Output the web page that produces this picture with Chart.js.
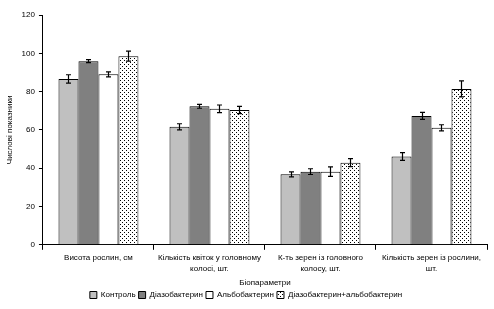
<!DOCTYPE html>
<html>
<head>
<meta charset="utf-8">
<script src="https://cdn.jsdelivr.net/npm/chart.js@4.4.1/dist/chart.umd.min.js"></script>
<style>
  html, body { margin: 0; padding: 0; background: #fff; }
  #wrap { width: 494px; height: 309px; }
</style>
</head>
<body>
<div id="wrap"><canvas id="myChart" width="494" height="309"></canvas></div>
<script>
const categories = [
  "Висота рослин, см",
  ["Кількість квіток у головному", "колосі, шт."],
  ["К-ть зерен із головного", "колосу, шт."],
  ["Кількість зерен із рослини,", "шт."]
];
const seriesNames = ["Контроль", "Діазобактерин", "Альбобактерин", "Діазобактерин+альбобактерин"];

const kontrol     = [86.6, 61.6, 36.8, 46.1];
const diazo       = [95.9, 72.3, 38.2, 67.3];
const albo        = [89.0, 71.0, 38.2, 61.1];
const diazoAlbo   = [98.5, 70.4, 42.9, 81.4];

const kontrolErr   = [2.2, 1.6, 1.3, 2.0];
const diazoErr     = [0.8, 1.0, 1.5, 1.8];
const alboErr      = [1.3, 2.0, 2.5, 1.6];
const diazoAlboErr = [2.6, 1.9, 2.1, 4.2];

// dotted fill for the last series
function dotPattern() {
  const c = document.createElement('canvas');
  c.width = 4; c.height = 4;
  const x = c.getContext('2d');
  x.fillStyle = '#fff';
  x.fillRect(0, 0, 4, 4);
  x.fillStyle = '#000';
  x.fillRect(0, 0, 1, 1);
  x.fillRect(2, 2, 1, 1);
  return x.createPattern(c, 'repeat');
}
const dots = dotPattern();

const font = { family: 'Liberation Sans, Arial', size: 8 };

// error bars drawn from the dataset meta + y scale
const errorBars = {
  id: 'errorBars',
  afterDatasetsDraw(chart) {
    const ctx = chart.ctx;
    const y = chart.scales.y;
    ctx.save();
    ctx.strokeStyle = '#000';
    ctx.lineWidth = 1.2;
    chart.data.datasets.forEach((ds, i) => {
      const meta = chart.getDatasetMeta(i);
      meta.data.forEach((bar, j) => {
        const v = ds.data[j], e = ds.err[j];
        const yt = y.getPixelForValue(v + e);
        const yb = y.getPixelForValue(v - e);
        const x = Math.round(bar.x) + 0.5;
        ctx.beginPath();
        ctx.moveTo(x, yt); ctx.lineTo(x, yb);
        ctx.moveTo(x - 2.5, yt); ctx.lineTo(x + 2.5, yt);
        ctx.moveTo(x - 2.5, yb); ctx.lineTo(x + 2.5, yb);
        ctx.stroke();
      });
    });
    ctx.restore();
  }
};

const fills = ['#C0C0C0', '#808080', '#FFFFFF', dots];
const values = [kontrol, diazo, albo, diazoAlbo];
const errs = [kontrolErr, diazoErr, alboErr, diazoAlboErr];

const data = {
  labels: categories,
  datasets: seriesNames.map((name, i) => ({
    label: name,
    data: values[i],
    err: errs[i],
    backgroundColor: fills[i],
    borderColor: '#000',
    borderWidth: 1,
    categoryPercentage: 0.72,
    barPercentage: 1.0,
  })),
};

new Chart('myChart', {
  type: 'bar',
  data: data,
  plugins: [errorBars],
  options: {
    responsive: false,
    animation: false,
    layout: { padding: { top: 15, right: 7, bottom: 0, left: 5 } },
    plugins: {
      tooltip: { enabled: false },
      legend: {
        position: 'bottom',
        labels: {
          font: font,
          color: '#000',
          boxWidth: 7,
          boxHeight: 7,
          padding: 3,
        }
      }
    },
    scales: {
      x: {
        grid: { drawOnChartArea: false, drawTicks: true, tickLength: 5, color: '#000', offset: true },
        border: { color: '#000', width: 1 },
        ticks: { font: { family: font.family, size: 8, lineHeight: 1.35 }, color: '#000', maxRotation: 0, autoSkip: false, padding: 3 },
        title: { display: true, text: 'Біопараметри', font: font, color: '#000', padding: { top: 1, bottom: 0 } }
      },
      y: {
        min: 0,
        max: 120,
        grid: { drawOnChartArea: false, drawTicks: true, tickLength: 4, color: '#000' },
        border: { color: '#000', width: 1 },
        ticks: { stepSize: 20, font: font, color: '#000', padding: 4 },
        title: { display: true, text: 'Числові показники', font: font, color: '#000', padding: { top: 0, bottom: 3 } }
      }
    }
  }
});
</script>
</body>
</html>
